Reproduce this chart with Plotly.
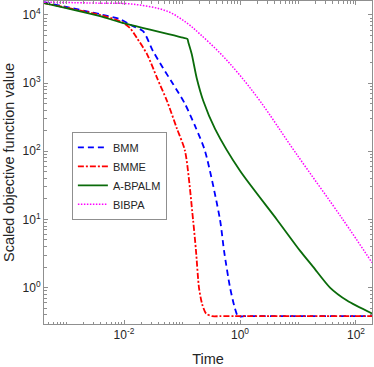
import plotly.graph_objects as go

# ---- data ----
bmm_t = [4.18e-4, 3.86e-3, 8.53e-3, 0.01429, 0.0213, 0.0316, 0.047, 0.070, 0.1127, 0.1676,
         0.249, 0.452, 0.53, 0.673, 0.82, 0.924, 1.2, 2.0, 189]
bmm_f = [15400, 10270, 8680, 6850, 5790, 2950, 1664, 970, 494, 235,
         101, 9.9, 3.48, 1.0, 0.49, 0.38, 0.38, 0.38, 0.38]

bmme_t = [4.18e-4, 3.86e-3, 9.24e-3, 0.01268, 0.01676, 0.0249, 0.0371, 0.0551, 0.082, 0.1127,
          0.155, 0.174, 0.196, 0.221, 0.259, 0.329, 0.45, 0.8, 189]
bmme_f = [14900, 10000, 7850, 6410, 4570, 2670, 1190, 547, 213, 101,
          9.9, 3.48, 1.0, 0.583, 0.416, 0.38, 0.38, 0.38, 0.38]

abpalm_t = [4.18e-4, 3.86e-3, 8.53e-3, 0.104, 0.1234, 0.1294, 0.147, 0.179, 0.233, 0.371,
            1.0, 4.34, 10.8, 18.1, 35.6, 70, 189]
abpalm_f = [14900, 9600, 7850, 4640, 4470, 3880, 2670, 1190, 547, 213,
            51.6, 9.9, 3.48, 2.03, 1.0, 0.645, 0.416]

bibpa_t = [4.18e-4, 3.86e-3, 0.01429, 0.0551, 0.1222, 0.204, 0.452, 0.924, 2.21, 8.87,
           59.7, 189]
bibpa_f = [15400, 14900, 14400, 11370, 7590, 5240, 2760, 1406, 547, 98,
           9.9, 2.32]

series_names = ["BMM", "BMME", "A-BPALM", "BIBPA"]

x_ticks = [1e-2, 1e0, 1e2]
x_ticktext = ["10<sup>-2</sup>", "10<sup>0</sup>", "10<sup>2</sup>"]
y_ticks = [1e0, 1e1, 1e2, 1e3, 1e4]
y_ticktext = ["10<sup>0</sup>", "10<sup>1</sup>", "10<sup>2</sup>", "10<sup>3</sup>", "10<sup>4</sup>"]

# minor tick positions (2..9 x 10^n and unlabeled decades)
x_minor = [k * 10.0 ** n for n in range(-4, 3) for k in range(1, 10)
           if not any(abs(k * 10.0 ** n - v) < 1e-12 for v in x_ticks)]
y_minor = [k * 10.0 ** n for n in range(-1, 5) for k in range(2, 10)]

FRAME = "#8f8f8f"
TEXT = "#262626"
FONT = "Liberation Sans, Arial, sans-serif"

fig = go.Figure()
fig.add_trace(go.Scatter(x=bmm_t, y=bmm_f, mode="lines", name=series_names[0],
                         line=dict(color="#0000ff", width=1.8, dash="6px,4px",
                                   shape="spline", smoothing=0.7)))
fig.add_trace(go.Scatter(x=bmme_t, y=bmme_f, mode="lines", name=series_names[1],
                         line=dict(color="#ff0000", width=1.8, dash="6px,2px,2px,2px",
                                   shape="spline", smoothing=0.7)))
fig.add_trace(go.Scatter(x=abpalm_t, y=abpalm_f, mode="lines", name=series_names[2],
                         line=dict(color="#0a6b0a", width=1.8, shape="spline", smoothing=0.7)))
fig.add_trace(go.Scatter(x=bibpa_t, y=bibpa_f, mode="lines", name=series_names[3],
                         line=dict(color="#ff00ff", width=1.5, dash="1.5px,1.5px",
                                   shape="spline", smoothing=1.0)))

axis_common = dict(
    showline=True, linecolor=FRAME, linewidth=1, mirror="allticks",
    ticks="inside", ticklen=4, tickcolor=FRAME, tickwidth=1,
    showgrid=False, zeroline=False,
    tickfont=dict(family=FONT, size=12, color=TEXT),
)

fig.update_xaxes(type="log", range=[-3.38, 2.276],
                 tickmode="array", tickvals=x_ticks, ticktext=x_ticktext,
                 minor=dict(tickmode="array", tickvals=x_minor, ticks="inside",
                            ticklen=2.5, tickcolor=FRAME, showgrid=False),
                 title=dict(text="Time", font=dict(family=FONT, size=14.5, color=TEXT), standoff=12),
                 **axis_common)
fig.update_yaxes(type="log", range=[-0.535, 4.205],
                 tickmode="array", tickvals=y_ticks, ticktext=y_ticktext,
                 minor=dict(tickmode="array", tickvals=y_minor, ticks="inside",
                            ticklen=2.5, tickcolor=FRAME, showgrid=False),
                 title=dict(text="Scaled objective function value",
                            font=dict(family=FONT, size=14.5, color=TEXT), standoff=4),
                 **axis_common)

fig.update_layout(
    width=374, height=367,
    margin=dict(l=44, r=2, t=1, b=43, autoexpand=False),
    paper_bgcolor="white", plot_bgcolor="white",
    font=dict(family=FONT, color=TEXT),
    legend=dict(x=0.085, y=0.595, xanchor="left", yanchor="top",
                bgcolor="white", bordercolor=FRAME, borderwidth=1,
                font=dict(family=FONT, size=11, color=TEXT),
                itemwidth=30, tracegroupgap=0),
    showlegend=True,
)

fig.write_html("out.html", config={"displayModeBar": False},
               post_script="document.body.style.margin='0';document.body.style.overflow='hidden';")
